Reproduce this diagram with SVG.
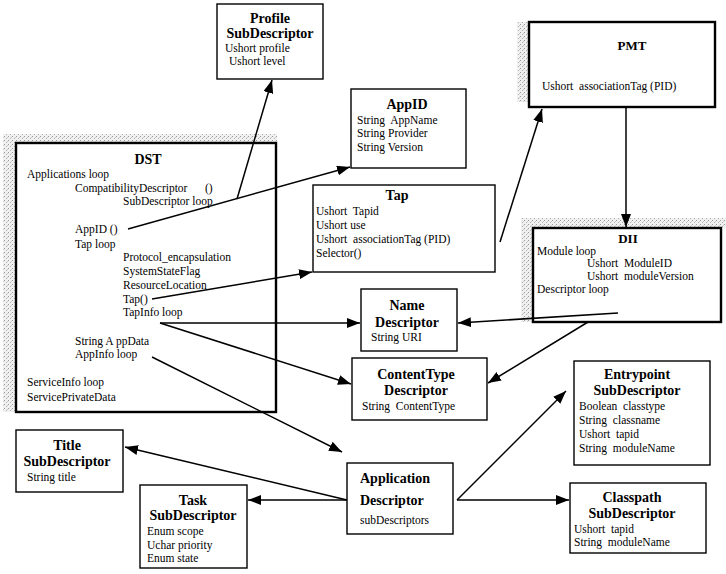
<svg xmlns="http://www.w3.org/2000/svg" width="726" height="574" viewBox="0 0 726 574">
<defs>
<style>
.t{font-family:"Liberation Serif","Times New Roman",serif;font-size:11.5px;fill:#000;white-space:pre}
.b{font-family:"Liberation Serif","Times New Roman",serif;font-size:14px;font-weight:bold;fill:#000}
.s{font-size:13px}
.box{fill:#fff;stroke:#000;stroke-width:1.4}
.thick{stroke-width:2.4}
.ln{stroke:#000;stroke-width:1.5;fill:none;marker-end:url(#ah)}
.sh{fill:url(#st)}
</style>
<pattern id="st" width="4" height="4" patternUnits="userSpaceOnUse"><rect width="4" height="4" fill="#f0f0f0"/><rect x="0" y="0" width="1" height="1" fill="#999"/><rect x="2" y="2" width="1" height="1" fill="#b0b0b0"/><rect x="3" y="1" width="1" height="1" fill="#ccc"/></pattern>
<marker id="ah" markerUnits="userSpaceOnUse" markerWidth="13" markerHeight="10" refX="13" refY="5" orient="auto"><path d="M0,0 L13,5 L0,10 z" fill="#000"/></marker>
</defs>
<rect width="726" height="574" fill="#fff"/>

<g id="dst">
<rect class="sh" x="3" y="134" width="274" height="10"/>
<rect class="sh" x="3" y="134" width="13" height="278"/>
<rect class="box thick" x="16" y="143" width="260" height="269"/>
<text class="b" x="148" y="164" text-anchor="middle">DST</text>
<text class="t" x="27" y="178">Applications loop</text>
<text class="t" x="75" y="192">CompatibilityDescriptor</text>
<text class="t" x="205" y="192">()</text>
<text class="t" x="123" y="205">SubDescriptor loop</text>
<text class="t" x="75" y="233">AppID ()</text>
<text class="t" x="75" y="248">Tap loop</text>
<text class="t" x="123" y="261">Protocol_encapsulation</text>
<text class="t" x="123" y="275">SystemStateFlag</text>
<text class="t" x="123" y="289">ResourceLocation</text>
<text class="t" x="123" y="303">Tap()</text>
<text class="t" x="123" y="316">TapInfo loop</text>
<text class="t" x="75" y="345">String A ppData</text>
<text class="t" x="75" y="358">AppInfo loop</text>
<text class="t" x="27" y="386">ServiceInfo loop</text>
<text class="t" x="27" y="401">ServicePrivateData</text>
</g>

<g id="profile">
<rect class="box" x="217" y="4" width="106" height="75"/>
<text class="b" x="270" y="23" text-anchor="middle">Profile</text>
<text class="b" x="270" y="38" text-anchor="middle">SubDescriptor</text>
<text class="t" x="225" y="52">Ushort profile</text>
<text class="t" x="229" y="65">Ushort level</text>
</g>

<g id="appid">
<rect class="box" x="351" y="89" width="115" height="79"/>
<text class="b" x="407" y="109" text-anchor="middle">AppID</text>
<text class="t" x="357" y="124">String  AppName</text>
<text class="t" x="357" y="137">String Provider</text>
<text class="t" x="357" y="151">String Version</text>
</g>

<g id="tap">
<rect class="box" x="313" y="185" width="182" height="87"/>
<text class="b" x="397" y="200" text-anchor="middle">Tap</text>
<text class="t" x="316" y="215">Ushort  Tapid</text>
<text class="t" x="316" y="229">Ushort use</text>
<text class="t" x="316" y="243">Ushort  associationTag (PID)</text>
<text class="t" x="316" y="257">Selector()</text>
</g>

<g id="pmt">
<rect class="sh" x="517" y="22" width="12" height="80"/>
<rect class="box thick" x="529" y="22" width="186" height="85"/>
<text class="b s" x="632" y="50" text-anchor="middle">PMT</text>
<text class="t" x="542" y="90">Ushort  associationTag (PID)</text>
</g>

<g id="dii">
<rect class="sh" x="521" y="218" width="205" height="10"/>
<rect class="sh" x="521" y="218" width="12" height="104"/>
<rect class="box thick" x="533" y="228" width="188" height="94"/>
<text class="b s" x="628" y="243" text-anchor="middle">DII</text>
<text class="t" x="537" y="255">Module loop</text>
<text class="t" x="587" y="267">Ushort  ModuleID</text>
<text class="t" x="587" y="280">Ushort  moduleVersion</text>
<text class="t" x="537" y="293">Descriptor loop</text>
</g>

<g id="name">
<rect class="box" x="361" y="289" width="96" height="62"/>
<text class="b" x="407" y="310" text-anchor="middle">Name</text>
<text class="b" x="407" y="327" text-anchor="middle">Descriptor</text>
<text class="t" x="371" y="341">String URI</text>
</g>

<g id="contenttype">
<rect class="box" x="352" y="358" width="135" height="62"/>
<text class="b" x="416" y="379" text-anchor="middle">ContentType</text>
<text class="b" x="416" y="395" text-anchor="middle">Descriptor</text>
<text class="t" x="362" y="410">String  ContentType</text>
</g>

<g id="entrypoint">
<rect class="box" x="574" y="361" width="136" height="104"/>
<text class="b" x="637" y="379" text-anchor="middle">Entrypoint</text>
<text class="b" x="637" y="395" text-anchor="middle">SubDescriptor</text>
<text class="t" x="579" y="410">Boolean  classtype</text>
<text class="t" x="579" y="424">String  classname</text>
<text class="t" x="579" y="438">Ushort  tapid</text>
<text class="t" x="579" y="452">String  moduleName</text>
</g>

<g id="classpath">
<rect class="box" x="570" y="483" width="136" height="70"/>
<text class="b" x="632" y="502" text-anchor="middle">Classpath</text>
<text class="b" x="632" y="518" text-anchor="middle">SubDescriptor</text>
<text class="t" x="574" y="533">Ushort  tapid</text>
<text class="t" x="574" y="546">String  moduleName</text>
</g>

<g id="appdesc">
<rect class="box" x="347" y="463" width="106" height="71"/>
<text class="b" x="360" y="483">Application</text>
<text class="b" x="360" y="505">Descriptor</text>
<text class="t" x="360" y="524">subDescriptors</text>
</g>

<g id="title">
<rect class="box" x="16" y="430" width="107" height="62"/>
<text class="b" x="67" y="450" text-anchor="middle">Title</text>
<text class="b" x="67" y="466" text-anchor="middle">SubDescriptor</text>
<text class="t" x="27" y="481">String title</text>
</g>

<g id="task">
<rect class="box" x="140" y="485" width="107" height="83"/>
<text class="b" x="193" y="505" text-anchor="middle">Task</text>
<text class="b" x="193" y="520" text-anchor="middle">SubDescriptor</text>
<text class="t" x="147" y="535">Enum scope</text>
<text class="t" x="147" y="549">Uchar priority</text>
<text class="t" x="147" y="562">Enum state</text>
</g>

<g id="connectors">
<path class="ln" d="M237,199 L272,80"/>
<path class="ln" d="M128,229 L350,167"/>
<path class="ln" d="M152,299 L312,272"/>
<path class="ln" d="M500,242 L542,109"/>
<path class="ln" d="M626,107 L626,227"/>
<path class="ln" d="M618,313 L458,323"/>
<path class="ln" d="M588,322 L488,383"/>
<path class="ln" d="M160,323 L360,323"/>
<path class="ln" d="M160,323 L351,384"/>
<path class="ln" d="M152,357 L342,452"/>
<path class="ln" d="M347,500 L125,447"/>
<path class="ln" d="M347,500 L248,500"/>
<path class="ln" d="M457,500 L566,391"/>
<path class="ln" d="M457,500 L569,500"/>
</g>
</svg>
